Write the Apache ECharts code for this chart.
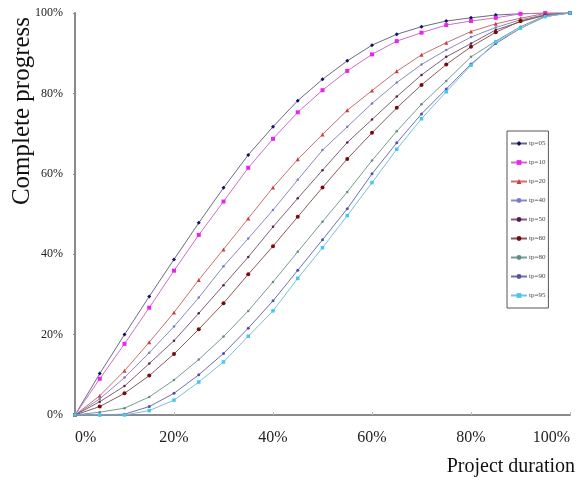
<!DOCTYPE html>
<html>
<head>
<meta charset="utf-8">
<script src="https://cdn.jsdelivr.net/npm/echarts@6/dist/echarts.min.js"></script>
<style>
  html, body { margin: 0; padding: 0; background: #fff; }
  #chart { width: 579px; height: 483px; }
</style>
</head>
<body>
<div id="chart"></div>
<script>
// project duration (%)
var duration = [0, 5, 10, 15, 20, 25, 30, 35, 40, 45, 50, 55, 60, 65, 70, 75, 80, 85, 90, 95, 100];

var tickLabels = ['0%', '20%', '40%', '60%', '80%', '100%'];

var names = ['tp=05', 'tp=10', 'tp=20', 'tp=40', 'tp=50', 'tp=60', 'tp=80', 'tp=90', 'tp=95'];

// complete progress (%) for each curve
var tp05 = [0, 10.3, 20.0, 29.5, 38.7, 47.8, 56.5, 64.7, 71.7, 78.2, 83.5, 88.1, 92.0, 94.7, 96.6, 98.0, 98.8, 99.5, 99.8, 100, 100];
var tp10 = [0, 9.0, 17.7, 26.7, 35.9, 44.8, 53.1, 61.5, 68.7, 75.3, 80.8, 85.6, 89.7, 93.0, 95.1, 97.0, 98.0, 98.8, 99.8, 100, 100];
var tp20 = [0, 4.8, 11.0, 18.1, 25.5, 33.6, 41.2, 48.9, 56.6, 63.6, 69.8, 75.8, 80.7, 85.5, 89.6, 92.6, 95.4, 97.3, 98.7, 99.9, 100];
var tp40 = [0, 4.0, 9.3, 15.5, 22.0, 29.2, 37.0, 43.9, 51.0, 58.5, 65.9, 71.7, 77.5, 82.7, 87.2, 90.8, 94.0, 96.4, 98.3, 99.6, 100];
var tp50 = [0, 3.3, 7.2, 12.8, 18.5, 25.3, 32.3, 39.3, 46.8, 53.9, 60.9, 67.8, 73.5, 79.2, 84.6, 89.1, 92.4, 95.8, 97.8, 99.5, 100];
var tp60 = [0, 2.1, 5.4, 9.8, 15.2, 21.3, 27.8, 35.0, 42.0, 49.3, 56.6, 63.7, 70.2, 76.4, 82.1, 87.2, 91.6, 95.2, 98.0, 99.4, 100];
var tp80 = [0, 0.7, 1.7, 4.5, 8.7, 13.8, 19.5, 25.9, 33.1, 40.6, 48.1, 55.5, 63.3, 70.6, 77.3, 83.1, 89.1, 93.0, 96.6, 99.3, 100];
var tp90 = [0, 0, 0.2, 2.1, 5.4, 10.0, 15.3, 21.6, 28.4, 36.0, 43.6, 51.3, 60.0, 67.7, 74.9, 81.1, 87.3, 92.4, 96.2, 99.1, 100];
var tp95 = [0, 0, 0, 1.1, 3.7, 8.2, 13.2, 19.6, 25.9, 34.0, 41.6, 49.6, 57.8, 66.1, 73.7, 80.4, 87.0, 92.8, 96.2, 99.1, 100];

var values = [tp05, tp10, tp20, tp40, tp50, tp60, tp80, tp90, tp95];
var markColors = ['#10106a', '#ee22ee', '#d03a3a', '#7a7ac8', '#5a1a4a', '#7a0a0a', '#5f8c86', '#5050b0', '#44c8ee'];
var lineColors = ['#6a6a88', '#c870c8', '#c87070', '#8a8ac0', '#806078', '#8a5a5a', '#7a9a96', '#7070b0', '#78c0dc'];
var symbols = ['diamond', 'rect', 'triangle', 'circle', 'circle', 'circle', 'circle', 'circle', 'rect'];
var symSizes = [4, 4, 4, 2.5, 2.5, 4, 2.5, 3, 3.5];

var serif = '"Liberation Serif", "DejaVu Serif", serif';

var series = names.map(function (n, i) {
    return {
        name: n,
        type: 'line',
        symbol: symbols[i],
        symbolSize: symSizes[i],
        itemStyle: { color: markColors[i] },
        lineStyle: { color: lineColors[i], width: 1 },
        data: duration.map(function (d, j) { return [d, values[i][j]]; })
    };
});

var option = {
    animation: false,
    grid: { left: 75, right: 9, top: 13, bottom: 68, outerBoundsMode: 'none' },
    legend: {
        orient: 'vertical',
        left: 507,
        top: 131,
        width: 40,
        padding: [9, 3, 9, 3],
        itemGap: 12,
        itemWidth: 16,
        itemHeight: 6,
        borderColor: '#555',
        borderWidth: 1,
        textStyle: { fontSize: 7, color: '#444', fontFamily: serif, padding: [0, 0, 0, -3] },
        data: names
    },
    xAxis: {
        type: 'value',
        min: 0, max: 100, interval: 20,
        axisLine: { lineStyle: { color: '#8a8a8a', width: 2 } },
        axisTick: { inside: true, length: 3, lineStyle: { color: '#bbb' } },
        splitLine: { show: false },
        axisLabel: {
            margin: 15,
            fontSize: 16,
            color: '#222',
            fontFamily: serif,
            alignMinLabel: 'left',
            alignMaxLabel: 'right',
            formatter: function (v) { return tickLabels[v / 20]; }
        }
    },
    yAxis: {
        type: 'value',
        min: 0, max: 100, interval: 20,
        axisLine: { show: true, lineStyle: { color: '#8a8a8a', width: 2 } },
        axisTick: { show: true, length: 2, lineStyle: { color: '#888' } },
        splitLine: { show: false },
        axisLabel: {
            margin: 12,
            fontSize: 12,
            color: '#222',
            fontFamily: serif,
            formatter: '{value}%'
        }
    },
    graphic: [
        {
            type: 'text',
            x: 22, y: 111,
            rotation: Math.PI / 2,
            style: {
                text: 'Complete progress',
                font: '25px ' + serif,
                fill: '#111',
                textAlign: 'center',
                textVerticalAlign: 'middle'
            }
        },
        {
            type: 'text',
            x: 575, y: 467,
            style: {
                text: 'Project duration',
                font: '20px ' + serif,
                fill: '#111',
                textAlign: 'right',
                textVerticalAlign: 'middle'
            }
        }
    ],
    series: series
};

var myChart = echarts.init(document.getElementById('chart'));
myChart.setOption(option);
</script>
</body>
</html>
